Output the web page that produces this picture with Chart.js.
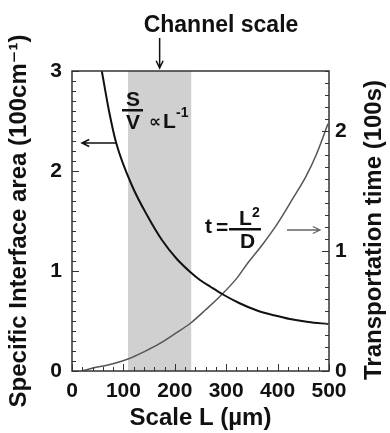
<!DOCTYPE html>
<html>
<head>
<meta charset="utf-8">
<script src="https://cdn.jsdelivr.net/npm/chart.js@4.4.1/dist/chart.umd.min.js"></script>
<style>
  html, body { margin: 0; padding: 0; background: #fff; }
  #wrap { width: 390px; height: 433px; }
</style>
</head>
<body>
<div id="wrap"><canvas id="scaleChart"></canvas></div>
<script>
// S/V curve: scale L (um) -> specific interface area (100 cm^-1), left axis
const svScale = [58, 72, 86, 117, 148, 175, 204, 230, 249, 270, 292, 325, 360, 395, 424, 460, 498];
const svArea  = [3.0, 2.6, 2.28, 1.85, 1.54, 1.31, 1.12, 0.99, 0.91, 0.84, 0.77, 0.68, 0.605, 0.555, 0.52, 0.49, 0.47];

// t = L^2/D curve: scale L (um) -> transportation time (100 s), right axis
const tScale = [20, 41, 70, 109, 140, 171, 200, 231, 260, 292, 320, 342, 370, 400, 430, 455, 475, 498];
const tTime  = [0, 0.025, 0.05, 0.10, 0.16, 0.23, 0.31, 0.40, 0.51, 0.64, 0.77, 0.90, 1.05, 1.23, 1.44, 1.62, 1.80, 2.06];

// shaded "channel scale" band (um)
const channelRange = [109, 232];

const xTicks = [0, 100, 200, 300, 400, 500];
const leftTicks = [0, 1, 2, 3];
const rightTicks = [0, 1, 2];

const INK = '#111';
const FONT = '"Liberation Sans", Arial, "DejaVu Sans", sans-serif';

function arrow(ctx, x1, y1, x2, y2, color, w) {
    const ang = Math.atan2(y2 - y1, x2 - x1);
    const h = 8;
    ctx.save();
    ctx.strokeStyle = color;
    ctx.lineWidth = w;
    ctx.beginPath();
    ctx.moveTo(x1, y1);
    ctx.lineTo(x2, y2);
    ctx.moveTo(x2 - h * Math.cos(ang - 0.45), y2 - h * Math.sin(ang - 0.45));
    ctx.lineTo(x2, y2);
    ctx.lineTo(x2 - h * Math.cos(ang + 0.45), y2 - h * Math.sin(ang + 0.45));
    ctx.stroke();
    ctx.restore();
}

const framePlugin = {
    id: 'frame',
    beforeDatasetsDraw(chart) {
        const {ctx, chartArea: a, scales: {x}} = chart;
        const x0 = x.getPixelForValue(channelRange[0]);
        const x1 = x.getPixelForValue(channelRange[1]);
        ctx.save();
        ctx.fillStyle = '#d0d0d0';
        ctx.fillRect(x0, a.top, x1 - x0, a.bottom - a.top);
        ctx.restore();
    },
    afterDatasetsDraw(chart) {
        const {ctx, chartArea: a, scales: {x, y, y1}} = chart;
        ctx.save();

        // box
        ctx.strokeStyle = '#333';
        ctx.lineWidth = 1.5;
        ctx.strokeRect(a.left, a.top, a.right - a.left, a.bottom - a.top);

        // inward ticks
        ctx.lineWidth = 1;
        ctx.beginPath();
        for (let i = 0; i <= 30; i++) {
            const py = Math.round(y.getPixelForValue(i / 10)) + 0.5;
            const len = i % 10 === 0 ? 7 : 4;
            ctx.moveTo(a.left, py); ctx.lineTo(a.left + len, py);
        }
        for (let i = 0; i <= 25; i++) {
            const py = Math.round(y1.getPixelForValue(i / 10)) + 0.5;
            const len = i % 10 === 0 ? 7 : 4;
            ctx.moveTo(a.right, py); ctx.lineTo(a.right - len, py);
        }
        for (let v = 0; v <= 500; v += 20) {
            const px = Math.round(x.getPixelForValue(v)) + 0.5;
            const len = v % 100 === 0 ? 7 : 4;
            ctx.moveTo(px, a.bottom); ctx.lineTo(px, a.bottom - len);
        }
        ctx.stroke();

        ctx.fillStyle = INK;
        ctx.textBaseline = 'alphabetic';

        // Channel scale label + arrow
        const cx = x.getPixelForValue((channelRange[0] + channelRange[1]) / 2);
        ctx.font = 'bold 23px ' + FONT;
        ctx.textAlign = 'left';
        ctx.fillText('Channel scale', cx - 16, 32);
        arrow(ctx, cx, 38, cx, a.top - 3, INK, 1.5);

        // S/V ∝ L^-1
        ctx.font = 'bold 21px ' + FONT;
        ctx.textAlign = 'center';
        ctx.fillText('S', 133, 106);
        ctx.fillText('V', 133, 129);
        ctx.fillRect(122, 109, 21, 2.5);
        ctx.textAlign = 'left';
        ctx.font = 'bold 17px ' + FONT;
        ctx.fillText('\u221D', 149, 127);
        ctx.font = 'bold 21px ' + FONT;
        ctx.fillText('L', 163, 128);
        ctx.font = 'bold 14px ' + FONT;
        ctx.fillText('-1', 176, 117);
        arrow(ctx, 116, 143, 82, 143, INK, 1.5);

        // t = L^2/D
        ctx.font = 'bold 21px ' + FONT;
        ctx.textAlign = 'left';
        ctx.fillText('t', 205, 233);
        ctx.fillText('=', 216, 234);
        ctx.fillText('L', 239, 225);
        ctx.fillText('D', 240, 248);
        ctx.font = 'bold 14px ' + FONT;
        ctx.fillText('2', 252, 217);
        ctx.fillRect(229, 228, 32, 2.5);
        arrow(ctx, 287, 230, 320, 230, '#666', 1.3);

        // right axis title, reads bottom to top
        ctx.save();
        ctx.translate(374, (a.top + a.bottom) / 2 + 9);
        ctx.rotate(-Math.PI / 2);
        ctx.font = 'bold 24px ' + FONT;
        ctx.textAlign = 'center';
        ctx.textBaseline = 'middle';
        ctx.fillText('Transportation time (100s)', 0, 0);
        ctx.restore();

        ctx.restore();
    }
};

const ctx = document.getElementById('scaleChart');

const chart = new Chart(ctx, {
    type: 'line',
    data: {
        datasets: [{
            label: 'S/V',
            data: svScale.map((v, i) => ({x: v, y: svArea[i]})),
            borderColor: '#111',
            borderWidth: 2,
            pointRadius: 0,
            cubicInterpolationMode: 'monotone',
            yAxisID: 'y'
        }, {
            label: 't',
            data: tScale.map((v, i) => ({x: v, y: tTime[i]})),
            borderColor: '#555',
            borderWidth: 1.5,
            pointRadius: 0,
            cubicInterpolationMode: 'monotone',
            yAxisID: 'y1'
        }]
    },
    options: {
        responsive: true,
        maintainAspectRatio: false,
        animation: false,
        layout: { padding: { top: 71, left: 0, right: 0, bottom: 0 } },
        plugins: { legend: { display: false }, tooltip: { enabled: false } },
        scales: {
            x: {
                type: 'linear',
                min: 0, max: 500,
                afterBuildTicks: s => { s.ticks = xTicks.map(v => ({value: v})); },
                afterFit: s => { s.height = 62; },
                grid: { display: false, drawTicks: false },
                border: { display: false },
                ticks: { color: INK, font: { family: FONT, size: 21, weight: 'bold' }, padding: 8, maxRotation: 0 },
                title: { display: true, text: 'Scale L (\u00B5m)', color: INK,
                         font: { family: FONT, size: 24, weight: 'bold' }, padding: { top: 0, bottom: 0 } }
            },
            y: {
                position: 'left',
                min: 0, max: 3,
                afterBuildTicks: s => { s.ticks = leftTicks.map(v => ({value: v})); },
                afterFit: s => { s.width = 72; },
                grid: { display: false, drawTicks: false },
                border: { display: false },
                ticks: { color: INK, font: { family: FONT, size: 21, weight: 'bold' }, padding: 10 },
                title: { display: true, text: 'Specific Interface area (100cm\u207B\u00B9)', color: INK,
                         font: { family: FONT, size: 24, weight: 'bold' }, padding: { top: 5, bottom: 0 } }
            },
            y1: {
                position: 'right',
                min: 0, max: 2.5,
                afterBuildTicks: s => { s.ticks = rightTicks.map(v => ({value: v})); },
                afterFit: s => { s.width = 61; },
                grid: { display: false, drawTicks: false },
                border: { display: false },
                ticks: { color: INK, font: { family: FONT, size: 21, weight: 'bold' }, padding: 6 }
            }
        }
    },
    plugins: [framePlugin]
});
</script>
</body>
</html>
